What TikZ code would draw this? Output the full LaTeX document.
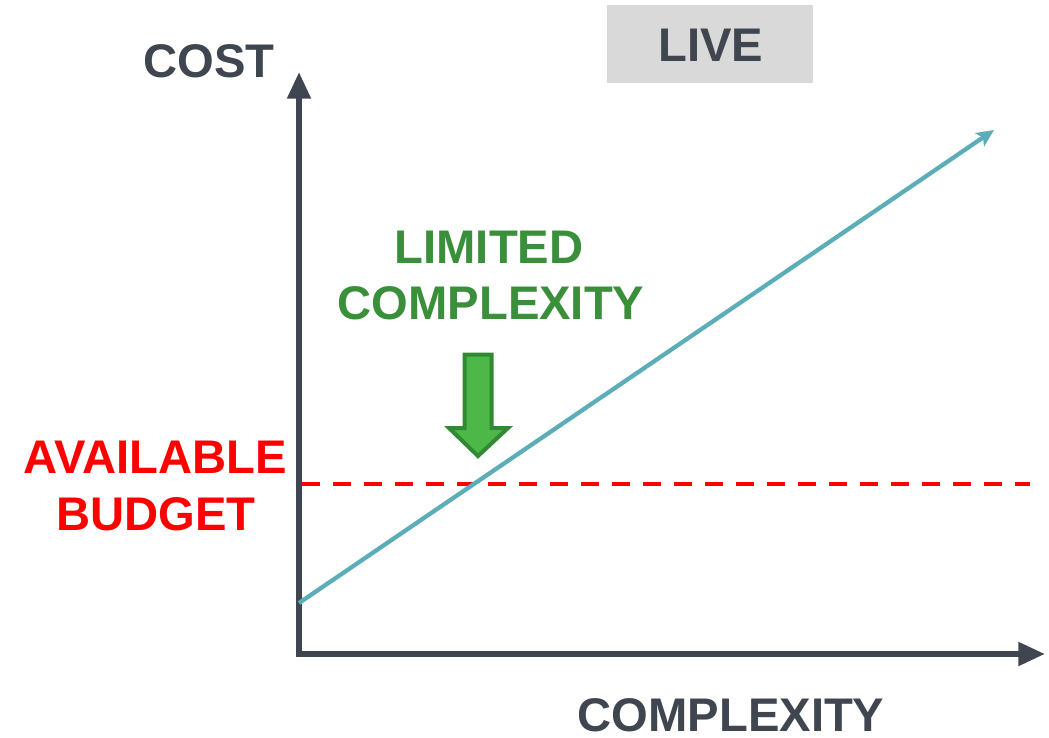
\documentclass[tikz,border=0pt]{standalone}
\usepackage{fontspec}
\setmainfont{Liberation Sans}
\usetikzlibrary{arrows.meta}
\definecolor{axisgray}{HTML}{3F4650}
\definecolor{livebg}{HTML}{D9D9D9}
\definecolor{tealline}{HTML}{5BAEB7}
\definecolor{budgetred}{HTML}{FF0000}
\definecolor{limgreen}{HTML}{3A8F3A}
\definecolor{arrowfill}{HTML}{4DB848}
\definecolor{arrowedge}{HTML}{2F8A33}
\tikzset{
  x=0.75pt, y=-0.75pt,
  bigtext/.style={font=\fontsize{35.4}{40}\selectfont\bfseries, inner sep=0pt, anchor=base},
  axisline/.style={draw=axisgray, line width=4.5pt, line join=miter,
    -{Triangle[length=20pt,width=17pt]}},
  costline/.style={draw=tealline, line width=3.2pt, -{Stealth[length=13pt,width=12pt,inset=3pt]}},
  budgetline/.style={draw=budgetred, line width=2.4pt, dash pattern=on 13.5pt off 9.75pt},
  downarrow/.style={fill=arrowfill, draw=arrowedge, line width=3pt, line join=miter},
}
\begin{document}
\begin{tikzpicture}
\useasboundingbox (0,0) rectangle (1049,738);
% coordinates
\coordinate (origin) at (299,654);
\coordinate (ytip) at (299,72);
\coordinate (xtip) at (1045,654);
\coordinate (cstart) at (299,603);
\coordinate (cend) at (994,130);
\coordinate (bstart) at (302,484);
\coordinate (bend) at (1030,484);
% LIVE box
\node[fill=livebg, minimum width=206*0.75pt, minimum height=78*0.75pt, inner sep=0pt, anchor=north west] (livebox) at (607,5) {};
\node[bigtext, text=axisgray] (live) at (711,62) {LIVE};
% axes
\draw[axisline] (origin) -- (ytip);
\draw[axisline] (origin) -- (xtip);
\fill[axisgray] ([xshift=-2.25pt,yshift=-2.25pt]origin) rectangle ([xshift=2.25pt,yshift=2.25pt]origin);
% budget line
\draw[budgetline] (bstart) -- (bend);
% cost line
\draw[costline] (cstart) -- (cend);
% green arrow
\draw[downarrow] (464.5,354.5) -- (491.5,354.5) -- (491.5,428) -- (508,428) -- (478,456) -- (449,428) -- (464.5,428) -- cycle;
% texts
\node[bigtext, text=axisgray] (cost) at (209,78) {COST};
\node[bigtext, text=axisgray] (xlabel) at (731,731) {COMPLEXITY};
\node[bigtext, text=limgreen] (lim1) at (489,263) {LIMITED};
\node[bigtext, text=limgreen] (lim2) at (491,319) {COMPLEXITY};
\node[bigtext, text=budgetred] (av1) at (155,473) {AVAILABLE};
\node[bigtext, text=budgetred] (av2) at (156,530) {BUDGET};
\end{tikzpicture}
\end{document}
